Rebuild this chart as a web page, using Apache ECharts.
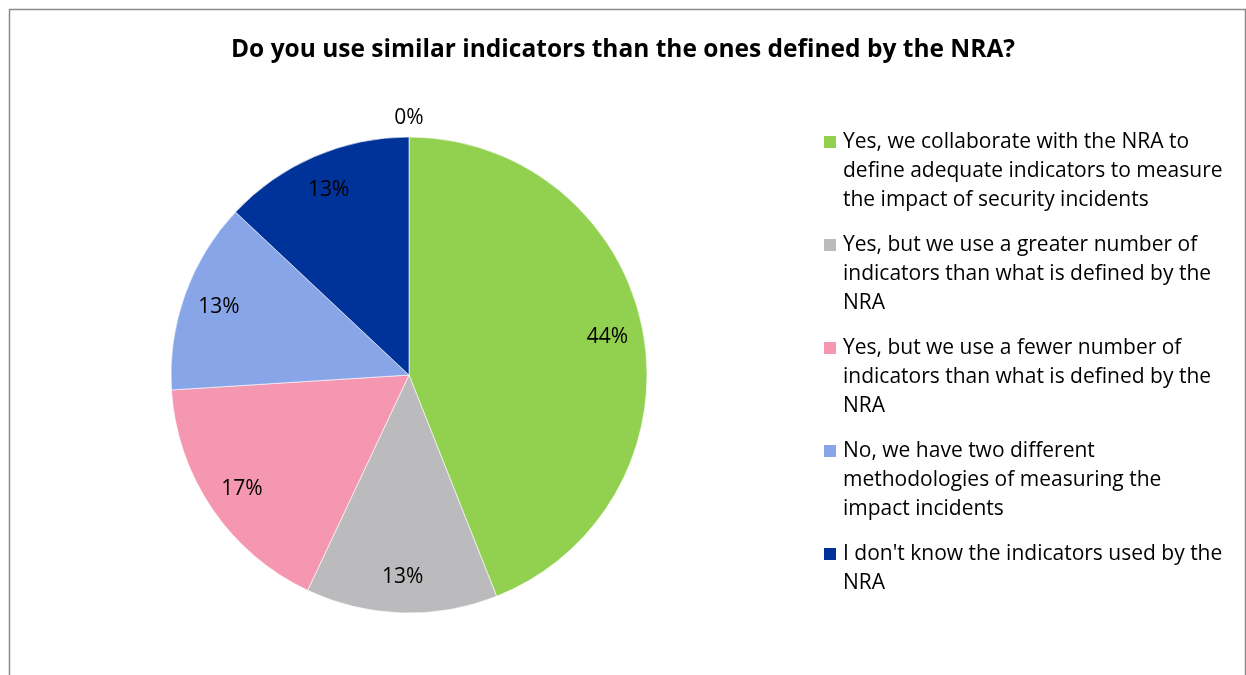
<!DOCTYPE html>
<html>
<head>
<meta charset="utf-8">
<style>
  html, body { margin: 0; padding: 0; background: #ffffff; overflow: hidden; }
  #chart { width: 1246px; height: 675px; }
</style>
<script src="https://cdn.jsdelivr.net/npm/echarts@6/dist/echarts.min.js"></script>
</head>
<body>
<div id="chart"></div>
<script>
// Survey answers (legend text, wrapped as displayed)
const categories = [
  'Yes, we collaborate with the NRA to\ndefine adequate indicators to measure\nthe impact of security incidents',
  'Yes, but we use a greater number of\nindicators than what is defined by the\nNRA',
  'Yes, but we use a fewer number of\nindicators than what is defined by the\nNRA',
  'No, we have two different\nmethodologies of measuring the\nimpact incidents',
  "I don't know the indicators used by the\nNRA"
];
// Share of respondents, in percent
const shares = [44, 13, 17, 13, 13];
// Answer with no respondents (no legend entry)
const zeroShare = 0;
const sliceColors = ['#92D050', '#BBBBBD', '#F597B0', '#88A5E8', '#003399'];

const FONT = '"Open Sans", Lato, sans-serif';
const center = [409, 375];
const R = 238;

const mainData = categories.map((name, i) => ({
  name: name, value: shares[i], itemStyle: { color: sliceColors[i] }
}));
const labelData = categories.map((name, i) => ({ name: name, value: shares[i] }));
const zeroRingData = labelData.map(d => ({ name: d.name, value: d.value, label: { show: false } }))
  .concat([{ name: 'none', value: zeroShare, label: { show: true } }]);

const chart = echarts.init(document.getElementById('chart'), null, { renderer: 'canvas' });

chart.setOption({
  backgroundColor: '#ffffff',
  animation: false,
  title: {
    text: 'Do you use similar indicators than the ones defined by the NRA?',
    left: 'center',
    top: 35,
    padding: 0,
    textStyle: { fontFamily: FONT, fontWeight: 'bold', fontSize: 24.5, lineHeight: 30, color: '#000000' }
  },
  legend: {
    orient: 'vertical',
    left: 822,
    top: 69.5,
    padding: 0,
    itemWidth: 14,
    itemHeight: 14,
    itemGap: -42,
    icon: 'rect',
    selectedMode: false,
    data: categories,
    textStyle: { fontFamily: FONT, fontSize: 21, lineHeight: 29, color: '#000000', padding: [0, 0, 0, 1] },
    formatter: function (name) {
      const lines = name.split('\n');
      const pad = [];
      for (let k = lines.length; k < 3; k++) pad.push('');
      return ['', ''].concat(lines, pad).join('\n');
    }
  },
  graphic: [{
    type: 'rect',
    shape: { x: 9.5, y: 9.5, width: 1236, height: 720 },
    style: { fill: 'none', stroke: '#8B8B8B', lineWidth: 1.5 },
    silent: true
  }],
  series: [
    {
      // visible slices
      type: 'pie',
      center: center,
      radius: [0, R],
      startAngle: 90,
      clockwise: true,
      silent: true,
      label: { show: false },
      labelLine: { show: false },
      itemStyle: { borderColor: '#ffffff', borderWidth: 0.6 },
      data: mainData
    },
    {
      // percentage labels placed at ~85% of the radius
      type: 'pie',
      center: center,
      radius: [160, R],
      startAngle: 90,
      clockwise: true,
      silent: true,
      legendHoverLink: false,
      itemStyle: { color: 'rgba(0,0,0,0)' },
      label: {
        show: true, position: 'inside', formatter: '{c}%',
        fontFamily: FONT, fontSize: 21, color: '#000000'
      },
      labelLine: { show: false },
      data: labelData
    },
    {
      // ring just outside the pie carrying the 0% label
      type: 'pie',
      center: center,
      radius: [R, 270],
      startAngle: 90,
      clockwise: true,
      silent: true,
      legendHoverLink: false,
      itemStyle: { color: 'rgba(0,0,0,0)' },
      label: {
        position: 'inside', formatter: '{c}%',
        fontFamily: FONT, fontSize: 21, color: '#000000'
      },
      labelLine: { show: false },
      data: zeroRingData
    }
  ]
});
</script>
</body>
</html>
